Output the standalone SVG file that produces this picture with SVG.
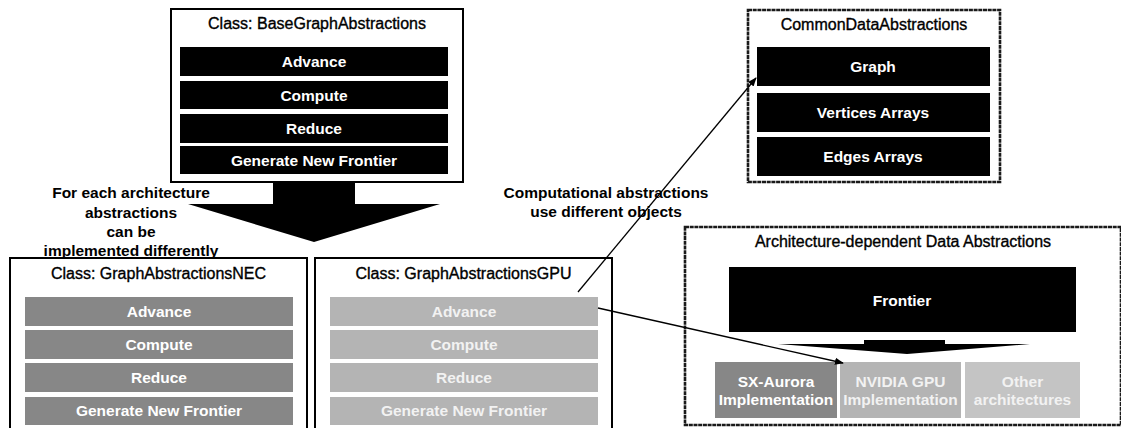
<svg xmlns="http://www.w3.org/2000/svg" width="1121" height="428" viewBox="0 0 1121 428">
  <defs>
    <marker id="tip" viewBox="0 0 10 10" refX="9" refY="5" markerWidth="9" markerHeight="9" markerUnits="userSpaceOnUse" orient="auto">
      <path d="M0,1 L10,5 L0,9 z" fill="#000"/>
    </marker>
    <style>
      .frame { fill: #fff; stroke: #000; stroke-width: 2; }
      .rough { fill: #fff; stroke: #1a1a1a; stroke-width: 2.6; stroke-dasharray: 4 0.7; }
      .title { font-family: "Liberation Sans", Arial, sans-serif; font-size: 16px; fill: #000; stroke: #000; stroke-width: 0.35; text-anchor: middle; }
      .note { font-family: "Liberation Sans", Arial, sans-serif; font-size: 15.5px; font-weight: bold; fill: #000; text-anchor: middle; }
      .lbl { font-family: "Liberation Sans", Arial, sans-serif; font-size: 15.5px; font-weight: bold; fill: #fff; text-anchor: middle; }
      .lbl-soft { font-family: "Liberation Sans", Arial, sans-serif; font-size: 15.5px; font-weight: bold; fill: #f2f2f2; text-anchor: middle; }
      .dark { fill: #000; }
      .mid { fill: #878787; }
      .light { fill: #b4b4b4; }
      .pale { fill: #c4c4c4; }
      .conn { stroke: #000; stroke-width: 1.3; fill: none; }
    </style>
  </defs>

  <rect width="1121" height="428" fill="#fff"/>

  <!-- base class -->
  <g id="base-graph-abstractions">
    <rect class="frame" x="171" y="9" width="292" height="173"/>
    <text class="title" x="317" y="29">Class: BaseGraphAbstractions</text>
    <rect class="dark" x="180" y="47" width="268" height="29"/>
    <text class="lbl" x="314" y="67">Advance</text>
    <rect class="dark" x="180" y="81" width="268" height="28"/>
    <text class="lbl" x="314" y="101">Compute</text>
    <rect class="dark" x="180" y="114" width="268" height="29"/>
    <text class="lbl" x="314" y="134">Reduce</text>
    <rect class="dark" x="180" y="146" width="268" height="28"/>
    <text class="lbl" x="314" y="166">Generate New Frontier</text>
  </g>

  <!-- common data objects -->
  <g id="common-data-abstractions">
    <rect class="rough" x="748" y="10" width="252" height="172"/>
    <text class="title" x="874" y="30">CommonDataAbstractions</text>
    <rect class="dark" x="757" y="47" width="233" height="39"/>
    <text class="lbl" x="873" y="72">Graph</text>
    <rect class="dark" x="757" y="93" width="233" height="39"/>
    <text class="lbl" x="873" y="118">Vertices Arrays</text>
    <rect class="dark" x="757" y="137" width="233" height="39"/>
    <text class="lbl" x="873" y="162">Edges Arrays</text>
  </g>

  <!-- inheritance arrow -->
  <g id="inheritance-arrow">
    <polygon class="dark" points="273,183 355,183 355,204 440,204 314,242 188,204 273,204"/>
  </g>

  <g id="inheritance-note">
    <text class="note" x="131" y="198">For each architecture</text>
    <text class="note" x="131" y="217.5">abstractions</text>
    <text class="note" x="131" y="237">can be</text>
    <text class="note" x="131" y="256">implemented differently</text>
  </g>

  <g id="objects-note">
    <text class="note" x="606" y="198">Computational abstractions</text>
    <text class="note" x="606" y="217">use different objects</text>
  </g>

  <!-- NEC implementation -->
  <g id="graph-abstractions-nec">
    <rect class="frame" x="10" y="258" width="297" height="185"/>
    <text class="title" x="158.5" y="279">Class: GraphAbstractionsNEC</text>
    <rect class="mid" x="25" y="297" width="268" height="29"/>
    <text class="lbl" x="159" y="317">Advance</text>
    <rect class="mid" x="25" y="330" width="268" height="29"/>
    <text class="lbl" x="159" y="350">Compute</text>
    <rect class="mid" x="25" y="363" width="268" height="29"/>
    <text class="lbl" x="159" y="383">Reduce</text>
    <rect class="mid" x="25" y="397" width="268" height="28"/>
    <text class="lbl" x="159" y="416">Generate New Frontier</text>
  </g>

  <!-- GPU implementation -->
  <g id="graph-abstractions-gpu">
    <rect class="frame" x="315" y="258" width="297" height="185"/>
    <text class="title" x="463.5" y="279">Class: GraphAbstractionsGPU</text>
    <rect class="light" x="330" y="297" width="268" height="29"/>
    <text class="lbl-soft" x="464" y="317">Advance</text>
    <rect class="light" x="330" y="330" width="268" height="29"/>
    <text class="lbl-soft" x="464" y="350">Compute</text>
    <rect class="light" x="330" y="363" width="268" height="29"/>
    <text class="lbl-soft" x="464" y="383">Reduce</text>
    <rect class="light" x="330" y="397" width="268" height="28"/>
    <text class="lbl-soft" x="464" y="416">Generate New Frontier</text>
  </g>

  <!-- architecture-dependent data -->
  <g id="architecture-dependent-data">
    <rect class="rough" x="685" y="227" width="436" height="198"/>
    <text class="title" x="903" y="247">Architecture-dependent Data Abstractions</text>
  </g>

  <g id="frontier">
    <rect class="dark" x="729" y="267" width="347" height="65"/>
    <text class="lbl" x="902" y="306">Frontier</text>
  </g>

  <g id="frontier-arrow">
    <polygon class="dark" points="864,340 945,340 945,344 1030,344 907,354 778,344 864,344"/>
  </g>

  <g id="sx-aurora-impl">
    <rect class="mid" x="715" y="362" width="122" height="56"/>
    <text class="lbl" x="776" y="387">SX-Aurora</text>
    <text class="lbl" x="776" y="405">Implementation</text>
  </g>

  <g id="nvidia-gpu-impl">
    <rect class="light" x="840" y="362" width="121" height="56"/>
    <text class="lbl-soft" x="900.5" y="387">NVIDIA GPU</text>
    <text class="lbl-soft" x="900.5" y="405">Implementation</text>
  </g>

  <g id="other-arch-impl">
    <rect class="pale" x="965" y="362" width="115" height="56"/>
    <text class="lbl-soft" x="1022.5" y="387">Other</text>
    <text class="lbl-soft" x="1022.5" y="405">architectures</text>
  </g>

  <!-- usage connectors -->
  <g id="connectors">
    <line class="conn" x1="578" y1="292" x2="756" y2="78" marker-end="url(#tip)"/>
    <line class="conn" x1="598" y1="308" x2="843" y2="363" marker-end="url(#tip)"/>
  </g>
</svg>
